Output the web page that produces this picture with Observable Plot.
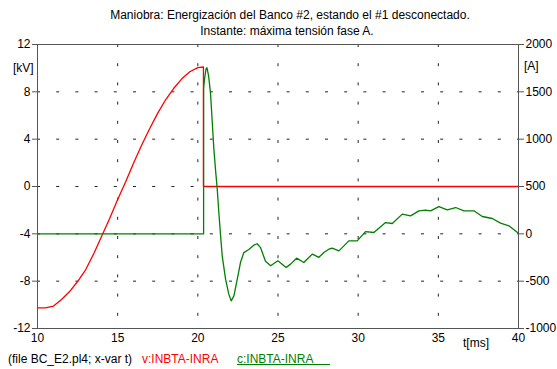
<!DOCTYPE html>
<html>
<head>
<meta charset="utf-8">
<script src="https://cdn.jsdelivr.net/npm/d3@7"></script>
<script src="https://cdn.jsdelivr.net/npm/@observablehq/plot@0.6"></script>
<style>
  body { margin: 0; background: #fff; font-family: "Liberation Sans", Arial, sans-serif; }
  #wrap { position: relative; width: 557px; height: 369px; overflow: hidden; }
  #wrap svg { position: absolute; left: 0; top: 0; }
  .t { position: absolute; font-size: 12px; line-height: 14px; color: #000; white-space: pre; }
</style>
</head>
<body>
<div id="wrap">
  <div class="t" style="left:0;width:580px;text-align:center;top:8px">Maniobra: Energización del Banco #2, estando el #1 desconectado.</div>
  <div class="t" style="left:0;width:574px;text-align:center;top:24px">Instante: máxima tensión fase A.</div>
  <div class="t" style="left:13px;top:61px">[kV]</div>
  <div class="t" style="left:524px;top:59px">[A]</div>
  <div class="t" style="left:463px;top:336px">t[ms]</div>
  <div class="t" style="left:8px;top:352px">(file BC_E2.pl4; x-var t)</div>
  <div class="t" style="left:142px;top:352px;color:#f00">v:INBTA-INRA</div>
  <div class="t" style="left:237px;top:352px;color:#008000;text-decoration:underline">c:INBTA-INRA&#160;&#160;&#160;&#160;&#160;</div>
</div>
<script>
// Time axis (ms) and the two vertical scales: voltage on the left, current on the right
const timeTicks = [10, 15, 20, 25, 30, 35, 40];
const kvTicks = [-12, -8, -4, 0, 4, 8, 12];
const ampTicks = [-1000, -500, 0, 500, 1000, 1500, 2000];

// v:INBTA-INRA voltage [kV]
const voltageTime = [10, 10.5, 11, 11.5, 12, 12.5, 13, 13.5, 14, 14.5, 15, 15.5, 16, 16.5, 17, 17.5, 18, 18.5, 19, 19.5, 20, 20.35, 20.35, 40];
const voltageKv = [-10.25, -10.25, -10.1, -9.55, -8.88, -8.03, -7.04, -5.7, -4.2, -2.7, -1.1, 0.4, 2.0, 3.5, 4.9, 6.2, 7.35, 8.3, 9.1, 9.7, 10.05, 10.1, 0, 0];

// c:INBTA-INRA current [A]
const currentTime = [10, 20.36, 20.36, 20.42, 20.51, 20.57, 20.67, 20.79, 20.9, 21.0, 21.1, 21.21, 21.31, 21.42, 21.52, 21.73, 21.93, 22.08, 22.25, 22.46, 22.66, 22.87, 23.18, 23.49, 23.7, 23.91, 24.22, 24.54, 24.99, 25.51, 25.78, 26.16, 26.61, 27.14, 27.55, 27.86, 28.17, 28.38, 28.8, 29.42, 29.94, 30.46, 30.98, 31.71, 32.13, 32.75, 33.27, 33.79, 34.2, 34.52, 35.03, 35.56, 36.08, 36.6, 37.22, 37.74, 38.37, 38.88, 39.4, 40];
const currentAmp = [0, 0, 1542, 1637, 1743, 1754, 1669, 1490, 1176, 895, 684, 472, 225, -21, -232, -479, -637, -708, -655, -479, -303, -198, -165, -120, -105, -145, -290, -338, -285, -356, -320, -257, -303, -214, -248, -198, -162, -151, -180, -74, -74, 24, 14, 119, 109, 208, 190, 243, 250, 243, 288, 254, 278, 243, 243, 183, 162, 113, 85, 5];

// The current shares the voltage scale: -1000..2000 A spans -12..12 kV
const kvDomain = [-12, 12];
const ampDomain = [-1000, 2000];
const ampToKv = a => kvDomain[0] + (a - ampDomain[0]) / (ampDomain[1] - ampDomain[0]) * (kvDomain[1] - kvDomain[0]);
const kvToAmp = v => ampDomain[0] + (v - kvDomain[0]) / (kvDomain[1] - kvDomain[0]) * (ampDomain[1] - ampDomain[0]);

const voltage = voltageTime.map((t, i) => ({t, v: voltageKv[i]}));
const current = currentTime.map((t, i) => ({t, a: currentAmp[i]}));

const innerTime = timeTicks.slice(1, -1);
const innerKv = kvTicks.slice(1, -1);

const chart = Plot.plot({
  width: 557,
  height: 369,
  marginTop: 44,
  marginBottom: 41,
  marginLeft: 37,
  marginRight: 39,
  style: {fontFamily: "'Liberation Sans', Arial, sans-serif", fontSize: "12px", color: "#000", background: "transparent", overflow: "visible"},
  x: {domain: [10, 40]},
  y: {domain: kvDomain},
  marks: [
    Plot.ruleY(innerKv, {stroke: "#222", strokeWidth: 1, strokeDasharray: "3,16.2"}),
    Plot.ruleX(innerTime, {stroke: "#222", strokeWidth: 1, strokeDasharray: "3,16.2"}),
    Plot.line(voltage, {x: "t", y: "v", stroke: "#ff0000", strokeWidth: 1.3}),
    Plot.line(current, {x: "t", y: d => ampToKv(d.a), stroke: "#008000", strokeWidth: 1.3}),
    Plot.frame({stroke: "#555", strokeWidth: 1}),
    Plot.axisX(timeTicks, {anchor: "bottom", tickSize: 0, tickPadding: 5, tickFormat: d => String(d), label: null, fill: "#000"}),
    Plot.axisY(kvTicks, {anchor: "left", tickSize: 5, tickPadding: 2, tickFormat: d => String(d), label: null, stroke: "#555", fill: "#000"}),
    Plot.axisY(ampTicks.map(ampToKv), {anchor: "right", tickSize: 5, tickPadding: 2, tickFormat: d => String(Math.round(kvToAmp(d))), label: null, stroke: "#555", fill: "#000"})
  ]
});
document.getElementById("wrap").prepend(chart);
</script>
</body>
</html>
